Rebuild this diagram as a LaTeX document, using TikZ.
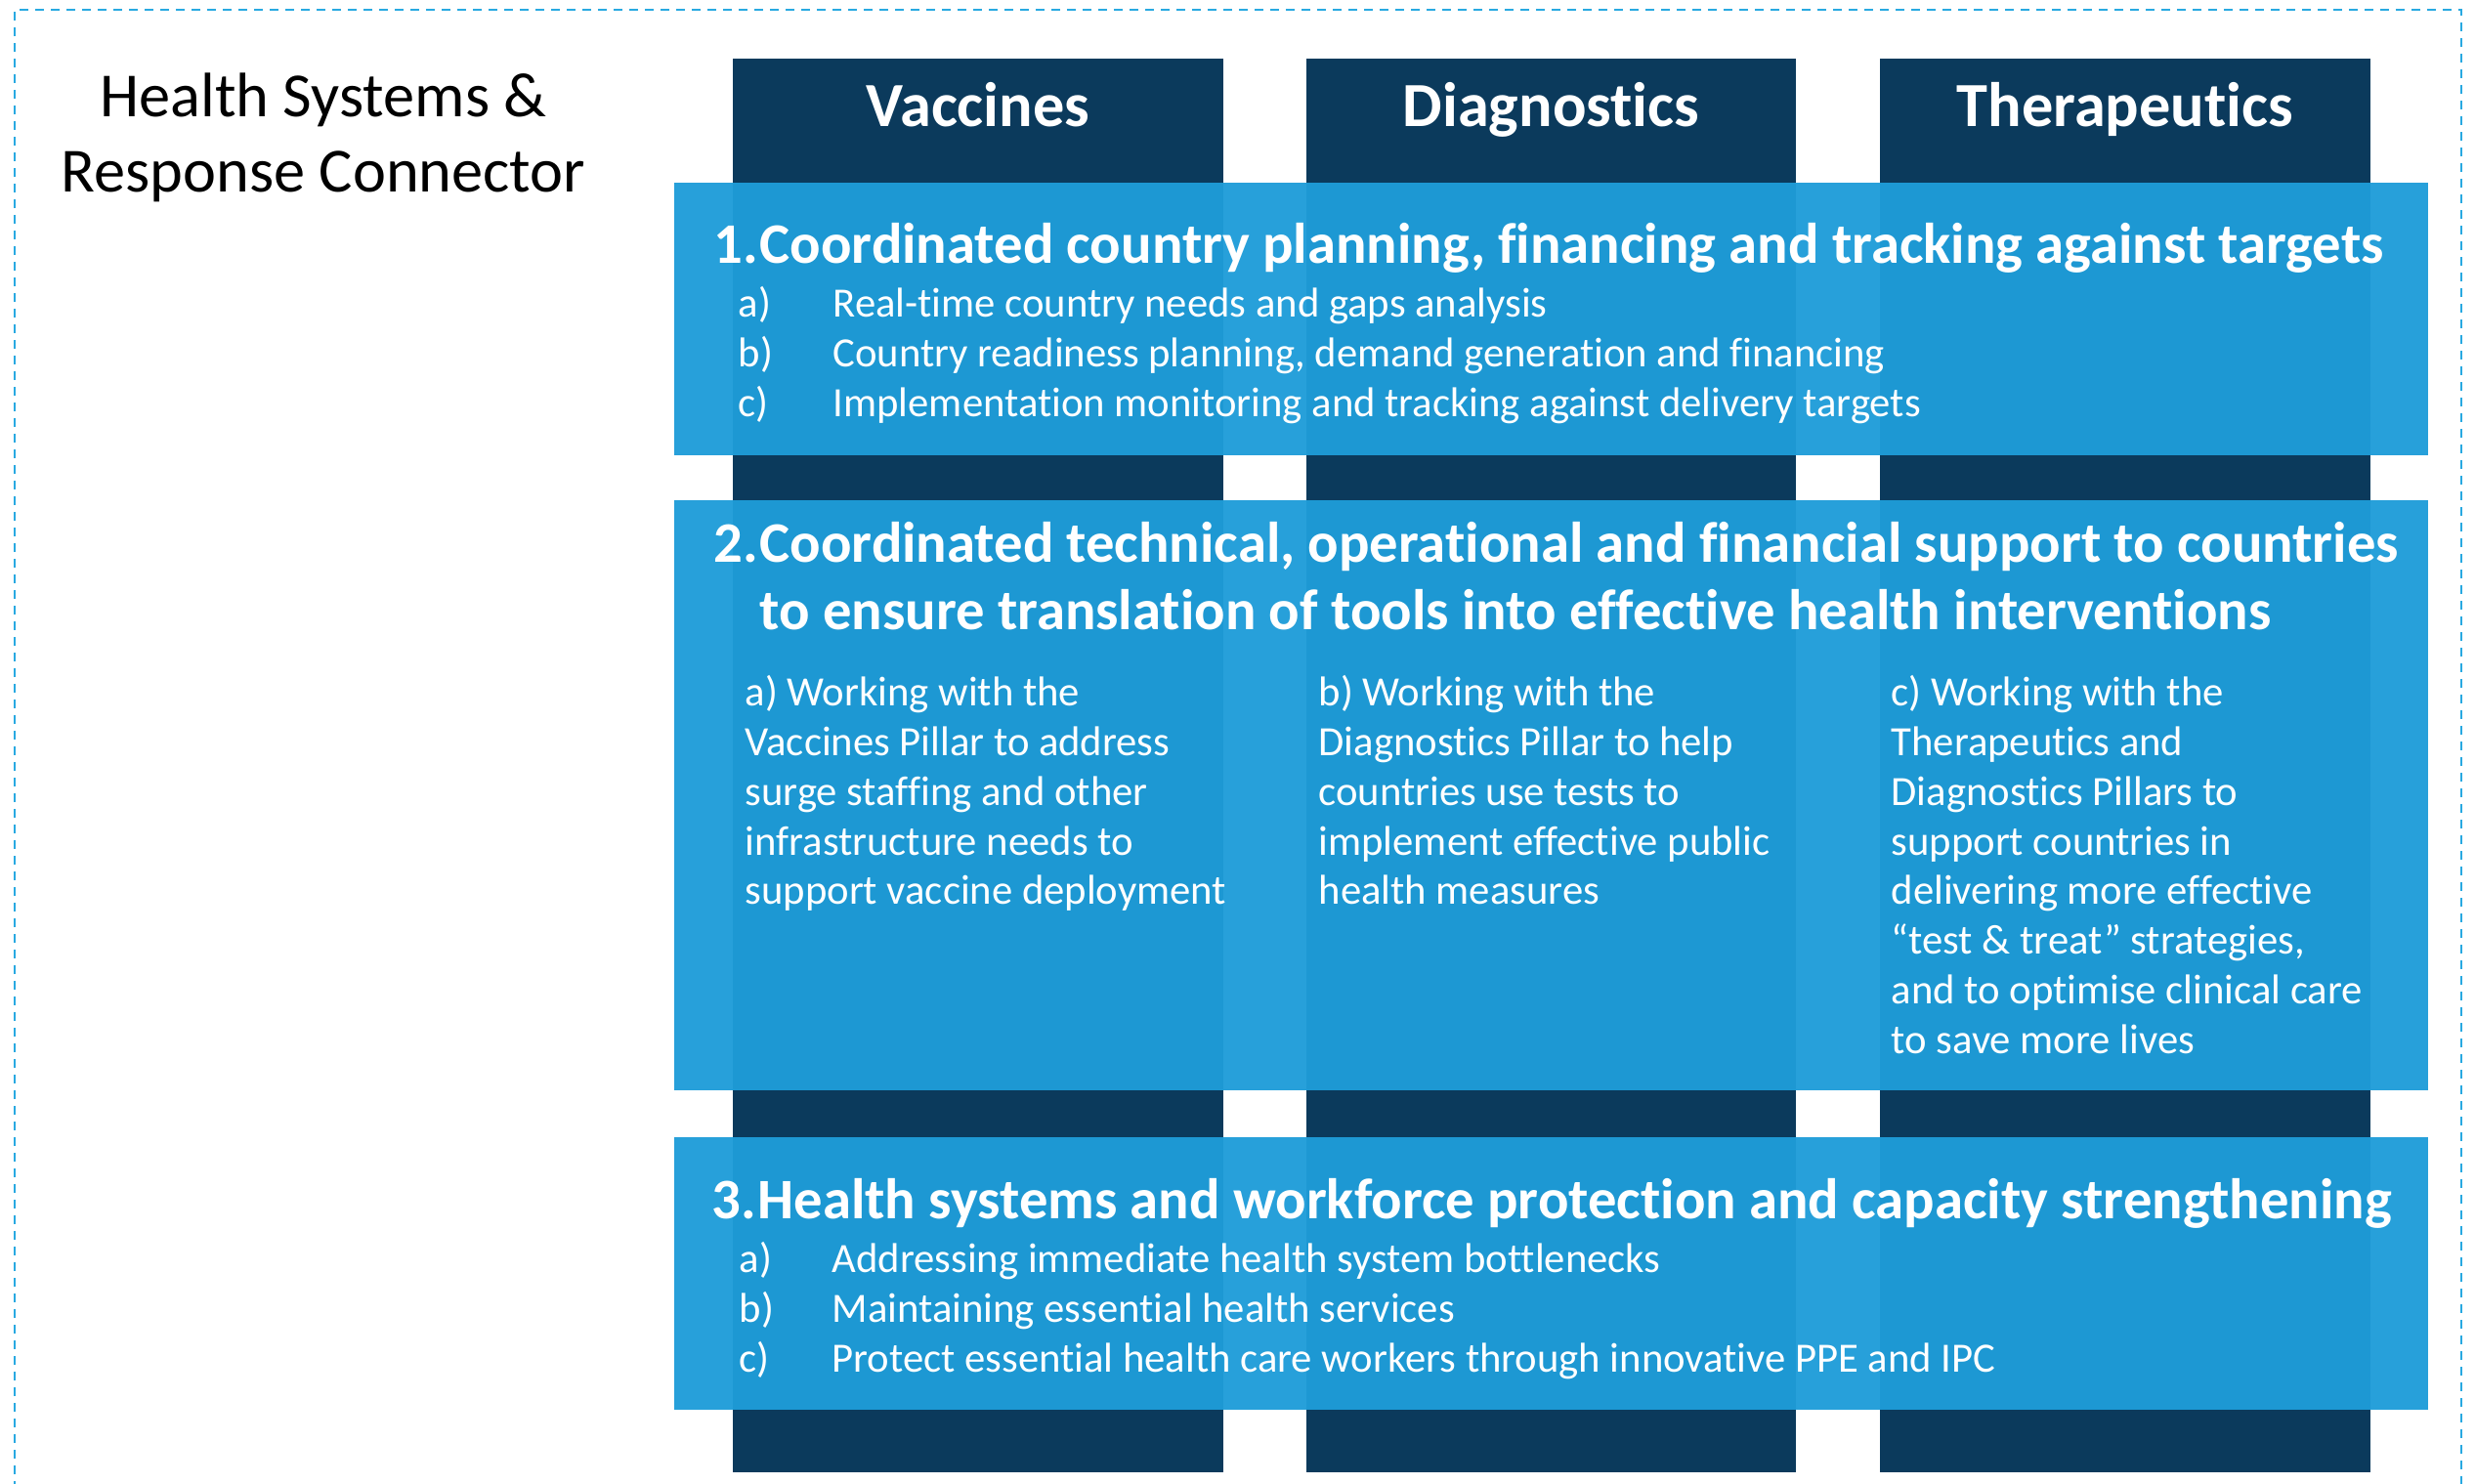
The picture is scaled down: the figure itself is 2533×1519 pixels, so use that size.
\documentclass[tikz,border=0pt]{standalone}
\usepackage{fontspec}
\setmainfont{Carlito}[Ligatures=NoCommon]
\definecolor{pillarnavy}{HTML}{0B3A5C}
\definecolor{bandblue}{HTML}{1E9CD8}
\definecolor{frameblue}{HTML}{29A9E1}
\begin{document}
\begin{tikzpicture}[x=0.3pt,y=-0.3pt,
  pillar/.style={fill=pillarnavy},
  band/.style={fill=bandblue,fill opacity=0.96},
  frame/.style={draw=frameblue,line width=0.65pt,dash pattern=on 2.7pt off 2.1pt},
  lefttitle/.style={text=black,font=\fontsize{19.3}{23.1}\selectfont,anchor=base,inner sep=0},
  head/.style={text=white,font=\fontsize{19.3}{22}\selectfont\bfseries,anchor=base,inner sep=0},
  ttl/.style={text=white,font=\fontsize{17.6}{20.7}\selectfont\bfseries,anchor=base west,inner sep=0},
  itm/.style={text=white,font=\fontsize{12.8}{15.3}\selectfont,anchor=base west,inner sep=0}]
\useasboundingbox (0,0) rectangle (2533,1519);
% dashed frame
\draw[frame] (15,1525) -- (15,10) -- (2519,10) -- (2519,1525);
% pillars
\fill[pillar] (750,60) rectangle (1252,1507);
\fill[pillar] (1337,60) rectangle (1838,1507);
\fill[pillar] (1924,60) rectangle (2426,1507);
% bands
\fill[band] (690,187) rectangle (2485,466);
\fill[band] (690,512) rectangle (2485,1116);
\fill[band] (690,1164) rectangle (2485,1443);
% left title
\node[lefttitle] (hsrc) at (331,120) {\parbox[t]{240pt}{\centering Health Systems \&\\Response Connector}};
% pillar headings
\node[head] (hvac) at (1001,130) {Vaccines};
\node[head] (hdia) at (1587.5,130) {Diagnostics};
\node[head] (hthe) at (2175,130) {Therapeutics};
% band 1
\node[ttl] (t1) at (730,270) {\makebox[14.1pt][l]{1.}Coordinated country planning, financing and tracking against targets};
\node[itm] (i1) at (755,325) {\parbox[t]{560pt}{%
\makebox[29.1pt][l]{a)}Real-time country needs and gaps analysis\\
\makebox[29.1pt][l]{b)}Country readiness planning, demand generation and financing\\
\makebox[29.1pt][l]{c)}Implementation monitoring and tracking against delivery targets}};
% band 2
\node[ttl] (t2) at (730,576) {\parbox[t]{560pt}{%
\makebox[14.1pt][l]{2.}Coordinated technical, operational and financial support to countries\\
\hspace*{14.1pt}to ensure translation of tools into effective health interventions}};
\node[itm] (c2a) at (762,722) {\parbox[t]{170pt}{%
a) Working with the\\
Vaccines Pillar to address\\
surge staffing and other\\
infrastructure needs to\\
support vaccine deployment}};
\node[itm] (c2b) at (1349,722) {\parbox[t]{170pt}{%
b) Working with the\\
Diagnostics Pillar to help\\
countries use tests to\\
implement effective public\\
health measures}};
\node[itm] (c2c) at (1935,722) {\parbox[t]{170pt}{%
c) Working with the\\
Therapeutics and\\
Diagnostics Pillars to\\
support countries in\\
delivering more effective\\
“test \& treat” strategies,\\
and to optimise clinical care\\
to save more lives}};
% band 3
\node[ttl] (t3) at (728,1247) {\makebox[14.1pt][l]{3.}Health systems and workforce protection and capacity strengthening};
\node[itm] (i3) at (756,1302) {\parbox[t]{560pt}{%
\makebox[28.5pt][l]{a)}Addressing immediate health system bottlenecks\\
\makebox[28.5pt][l]{b)}Maintaining essential health services\\
\makebox[28.5pt][l]{c)}Protect essential health care workers through innovative PPE and IPC}};
\end{tikzpicture}
\end{document}
